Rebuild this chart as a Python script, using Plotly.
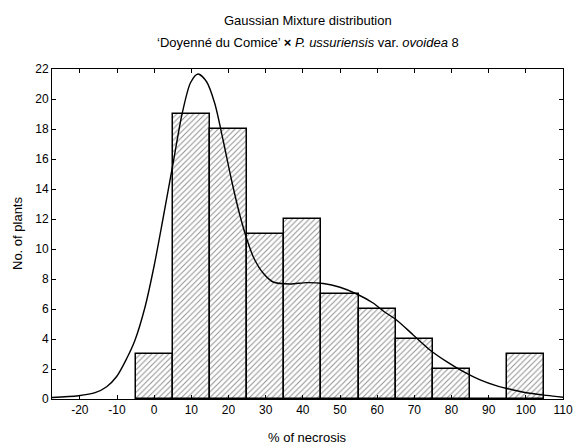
import plotly.graph_objects as go

bin_centers = [0, 10, 20, 30, 40, 50, 60, 70, 80, 90, 100]
counts = [3, 19, 18, 11, 12, 7, 6, 4, 2, 0, 3]

curve_x = [-27.5, -20.4, -15.9, -12.8, -10.1, -7.4, -5.2, -2.5, 0.0, 2.5, 5.0, 7.5,
           9.8, 11.8, 14.1, 16.3, 18.5, 20.8, 23.0, 25.0, 26.8, 29.3, 32.0, 36.5,
           41.0, 45.5, 50.0, 54.5, 58.9, 62.0, 65.2, 69.7, 74.2, 78.7, 83.2, 87.7,
           92.2, 96.6, 101.1, 105.6, 110.0]
curve_y = [0.1, 0.22, 0.42, 0.82, 1.5, 2.7, 3.9, 6.1, 8.9, 12.2, 15.6, 19.0,
           21.1, 21.67, 21.15, 19.7, 17.3, 14.6, 12.3, 10.6, 9.4, 8.4, 7.8, 7.67,
           7.76, 7.7, 7.45, 7.0, 6.4, 5.8, 5.27, 4.27, 3.27, 2.49, 1.82, 1.27,
           0.87, 0.6, 0.38, 0.24, 0.12]

x_ticks = list(range(-20, 111, 10))
y_ticks = list(range(0, 23, 2))

fig = go.Figure()
fig.add_trace(go.Bar(
    x=bin_centers, y=counts, width=[10] * len(bin_centers),
    marker=dict(color="white",
                line=dict(color="black", width=1.5),
                pattern=dict(shape="/", size=4, solidity=0.25,
                             fgcolor="#222222", bgcolor="white")),
    showlegend=False,
))
fig.add_trace(go.Scatter(
    x=curve_x, y=curve_y, mode="lines",
    line=dict(color="black", width=1.4, shape="spline", smoothing=0.8),
    showlegend=False,
))

font = "Liberation Sans, Arial, sans-serif"
fig.update_layout(
    width=573, height=447,
    margin=dict(l=52, r=10, t=69, b=48),
    paper_bgcolor="white", plot_bgcolor="white",
    font=dict(family=font, size=12, color="black"),
    bargap=0,
    annotations=[
        dict(text="Gaussian Mixture distribution", x=0.5, y=1, xref="paper",
             yref="paper", yshift=49, showarrow=False, yanchor="middle",
             font=dict(size=13)),
        dict(text="\u2018Doyenné du Comice\u2019 <b>×</b> <i>P. ussuriensis</i> var. <i>ovoidea</i> 8",
             x=0.5, y=1, xref="paper", yref="paper", yshift=27, showarrow=False,
             yanchor="middle", font=dict(size=13)),
        dict(text="% of necrosis", x=0.5, y=0, xref="paper", yref="paper",
             yshift=-38, showarrow=False, yanchor="middle", font=dict(size=13)),
        dict(text="No. of plants", x=0, y=0.5, xref="paper", yref="paper",
             xshift=-35, showarrow=False, xanchor="center", textangle=-90,
             font=dict(size=13)),
    ],
)
fig.update_xaxes(
    range=[-27.5, 110], tickvals=x_ticks, ticktext=[str(v) for v in x_ticks],
    ticks="inside", ticklen=4, tickcolor="black", showline=True,
    linecolor="black", linewidth=1, mirror="ticks", showgrid=False,
    zeroline=False, automargin=False, tickfont=dict(size=12),
)
fig.update_yaxes(
    range=[0, 22], tickvals=y_ticks, ticks="inside", ticklen=4,
    tickcolor="black", showline=True, linecolor="black", linewidth=1,
    mirror="ticks", showgrid=False, zeroline=False, automargin=False,
    tickfont=dict(size=12),
)
fig.write_html("out.html")
